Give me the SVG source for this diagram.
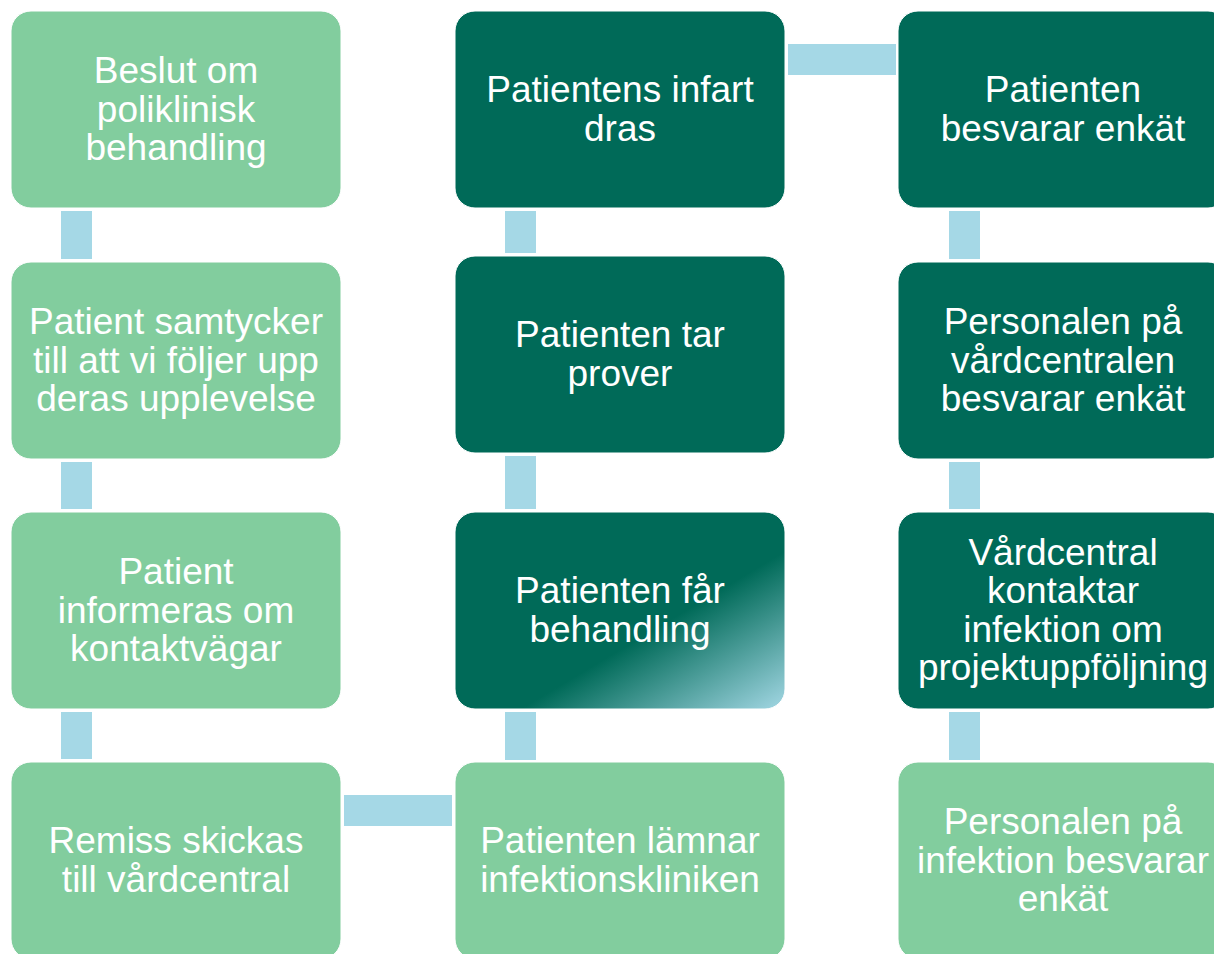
<svg xmlns="http://www.w3.org/2000/svg" width="1214" height="954" viewBox="0 0 1214 954">
<defs>
<linearGradient id="grad" x1="0" y1="0" x2="1" y2="1">
<stop offset="0" stop-color="#006A58"/>
<stop offset="0.6" stop-color="#006A58"/>
<stop offset="1" stop-color="#A3D7E4"/>
</linearGradient>
<style>
.light rect{fill:#82CD9E;stroke:#ffffff;stroke-width:1}
.dark rect{fill:#006A58;stroke:#ffffff;stroke-width:1}
#n7 rect{fill:url(#grad)}
text{font-family:"Liberation Sans",Arial,sans-serif;font-size:37px;fill:#ffffff;text-anchor:middle}
.conn rect{fill:#A5D8E6}
</style>
</defs>
<rect width="1214" height="954" fill="#ffffff"/>
<g id="connectors" class="conn">
<rect x="61" y="211" width="31" height="48"/>
<rect x="61" y="462" width="31" height="47"/>
<rect x="61" y="712" width="31" height="47"/>
<rect x="344" y="795" width="108" height="31"/>
<rect x="505" y="712" width="31" height="48"/>
<rect x="505" y="456" width="31" height="53"/>
<rect x="505" y="211" width="31" height="42"/>
<rect x="788" y="44" width="108" height="31"/>
<rect x="949" y="211" width="31" height="48"/>
<rect x="949" y="462" width="31" height="47"/>
<rect x="949" y="712" width="31" height="48"/>
</g>
<g id="n1" class="light">
<rect x="11" y="11" width="330" height="197" rx="20"/>
<text x="176" y="83">Beslut om</text>
<text x="176" y="121.5">poliklinisk</text>
<text x="176" y="160">behandling</text>
</g>
<g id="n2" class="light">
<rect x="11" y="262" width="330" height="197" rx="20"/>
<text x="176" y="334">Patient samtycker</text>
<text x="176" y="372.5">till att vi följer upp</text>
<text x="176" y="411">deras upplevelse</text>
</g>
<g id="n3" class="light">
<rect x="11" y="512" width="330" height="197" rx="20"/>
<text x="176" y="584">Patient</text>
<text x="176" y="622.5">informeras om</text>
<text x="176" y="661">kontaktvägar</text>
</g>
<g id="n4" class="light">
<rect x="11" y="762" width="330" height="197" rx="20"/>
<text x="176" y="853">Remiss skickas</text>
<text x="176" y="891.5">till vårdcentral</text>
</g>
<g id="n5" class="light">
<rect x="455" y="762" width="330" height="197" rx="20"/>
<text x="620" y="853">Patienten lämnar</text>
<text x="620" y="891.5">infektionskliniken</text>
</g>
<g id="n7" class="dark">
<rect x="455" y="512" width="330" height="197" rx="20"/>
<text x="620" y="603">Patienten får</text>
<text x="620" y="641.5">behandling</text>
</g>
<g id="n6" class="dark">
<rect x="455" y="256" width="330" height="197" rx="20"/>
<text x="620" y="347">Patienten tar</text>
<text x="620" y="385.5">prover</text>
</g>
<g id="n8" class="dark">
<rect x="455" y="11" width="330" height="197" rx="20"/>
<text x="620" y="102">Patientens infart</text>
<text x="620" y="140.5">dras</text>
</g>
<g id="n9" class="dark">
<rect x="898" y="11" width="330" height="197" rx="20"/>
<text x="1063" y="102">Patienten</text>
<text x="1063" y="140.5">besvarar enkät</text>
</g>
<g id="n10" class="dark">
<rect x="898" y="262" width="330" height="197" rx="20"/>
<text x="1063" y="334">Personalen på</text>
<text x="1063" y="372.5">vårdcentralen</text>
<text x="1063" y="411">besvarar enkät</text>
</g>
<g id="n11" class="dark">
<rect x="898" y="512" width="330" height="197" rx="20"/>
<text x="1063" y="564.5">Vårdcentral</text>
<text x="1063" y="603">kontaktar</text>
<text x="1063" y="641.5">infektion om</text>
<text x="1063" y="680">projektuppföljning</text>
</g>
<g id="n12" class="light">
<rect x="898" y="762" width="330" height="197" rx="20"/>
<text x="1063" y="834">Personalen på</text>
<text x="1063" y="872.5">infektion besvarar</text>
<text x="1063" y="911">enkät</text>
</g>
</svg>
